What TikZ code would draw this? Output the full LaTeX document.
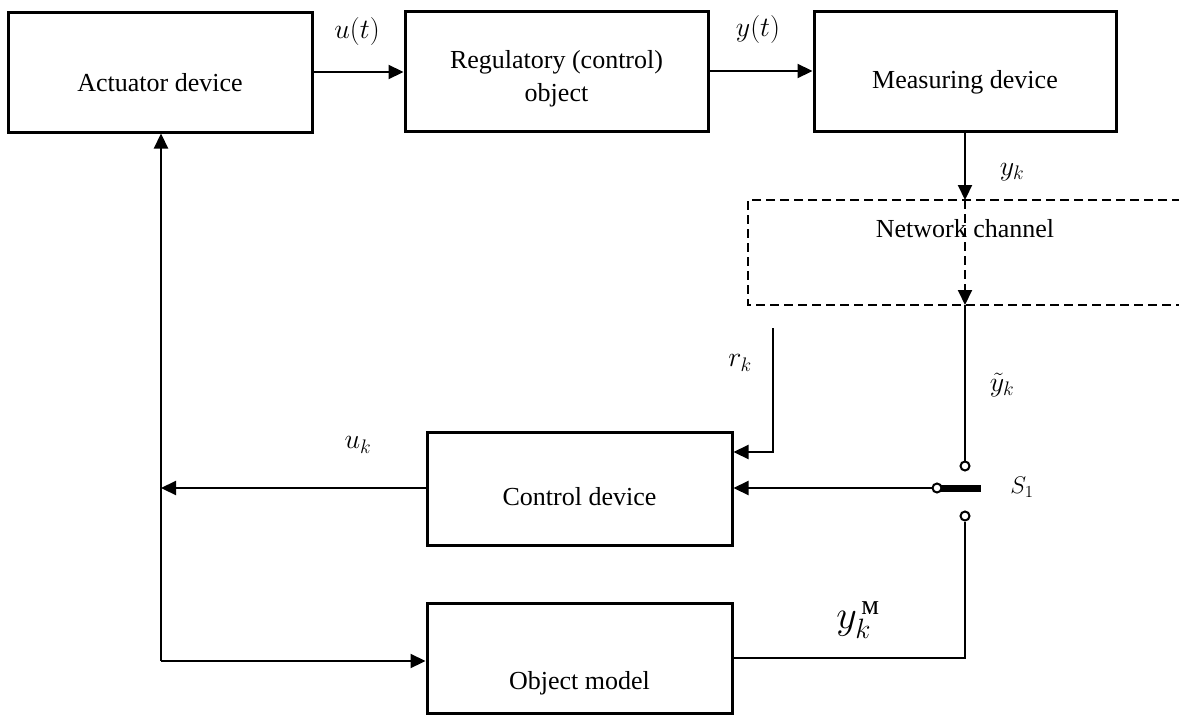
\RequirePackage{fix-cm}
\documentclass[tikz,border=0pt]{standalone}
\usepackage{amsmath}
\usepackage{fontspec}
\setmainfont{Liberation Serif}
\newfontfamily\cyrfont{Liberation Serif}
\usetikzlibrary{arrows.meta}
\begin{document}
\begin{tikzpicture}[x=1pt,y=-1pt,
  box/.style={draw,line width=3pt,rectangle,inner sep=0pt,font=\fontsize{26}{33}\selectfont,text depth=0pt},
  conn/.style={line width=2.2pt},
  arr/.style={conn,-{Triangle[length=15pt,width=14pt]}},
  netline/.style={line width=2pt,dash pattern=on 9pt off 5pt},
  lbl/.style={font=\fontsize{28}{32}\selectfont,inner sep=0pt},
  biglbl/.style={font=\fontsize{40}{44}\selectfont,inner sep=0pt},
  contact/.style={circle,draw,line width=2pt,fill=white,minimum size=9pt,inner sep=0pt}]
\useasboundingbox (0,0) rectangle (1179,715);

% blocks (text height = twice the drop of the baseline below the centre)
\node[box,minimum width=304pt,minimum height=120pt,text height=38pt] (act) at (160,72) {Actuator device};
\node[box,minimum width=303pt,minimum height=120pt,text height=60pt] (reg) at (556.5,71) {\begin{tabular}[b]{@{}c@{}}Regulatory (control)\\object\end{tabular}};
\node[box,minimum width=302pt,minimum height=120pt,text height=34pt] (meas) at (965,71) {Measuring device};
\node[box,minimum width=305pt,minimum height=113pt,text height=33pt] (ctrl) at (579.5,488.5) {Control device};
\node[box,minimum width=305pt,minimum height=110pt,text height=62pt] (obj) at (579.5,658) {Object model};

% network channel (open on the right)
\draw[netline] (1181,200) -- (748,200) -- (748,305) -- (1181,305);
\node[font=\fontsize{26}{31}\selectfont,inner sep=0pt,anchor=base] (net) at (965,237) {Network channel};

% coordinates
\coordinate (nTop) at (965,200);
\coordinate (nBot) at (965,305);
\coordinate (pv) at (937,488);
\coordinate (bladeEnd) at (981,488);
\coordinate (rTop) at (773,328);
\coordinate (rCorner) at (773,452);
\coordinate (jU) at (161,488);
\coordinate (jB) at (161,661);
\coordinate (mCorner) at (965,658);

% switch
\draw[line width=7pt] (pv) -- (bladeEnd);
\node[contact] (c1) at (965,466) {};
\node[contact] (piv) at (pv) {};
\node[contact] (c2) at (965,516) {};

% connectors
\draw[arr] (act.east |- 0,72) -- (reg.west |- 0,72);
\draw[arr] (reg.east |- 0,71) -- (meas.west |- 0,71);
\draw[arr] (meas.south) -- (nTop);
\draw[netline,-{Triangle[length=15pt,width=14pt]}] (nTop) -- (nBot);
\draw[conn] (nBot) -- (c1.north);
\draw[arr] (piv.west) -- (ctrl.east |- pv);
\draw[arr] (rTop) -- (rCorner) -- (ctrl.east |- rCorner);
\draw[arr] (ctrl.west |- jU) -- (jU);
\draw[arr] (jB) -- (act.south -| jB);
\draw[arr] (jB) -- (obj.west |- jB);
\draw[conn] (obj.east |- mCorner) -- (mCorner) -- (c2.south);

% labels
\node[lbl] (lut) at (357,31) {$u(t)$};
\node[lbl] (lyt) at (758,29) {$y(t)$};
\node[lbl] (lyk) at (1012,172) {$y_k$};
\node[lbl] (lytk) at (1002,385) {$\tilde{y}_k$};
\node[lbl] (lrk) at (740,363) {$r_k$};
\node[lbl] (luk) at (358,445) {$u_k$};
\node[biglbl] (lym) at (858,620) {$y_{k}^{\,\text{\cyrfont м}}$};
\node[font=\fontsize{24}{28}\selectfont,inner sep=0pt] (ls) at (1022,487) {$S_1$};
\end{tikzpicture}
\end{document}
